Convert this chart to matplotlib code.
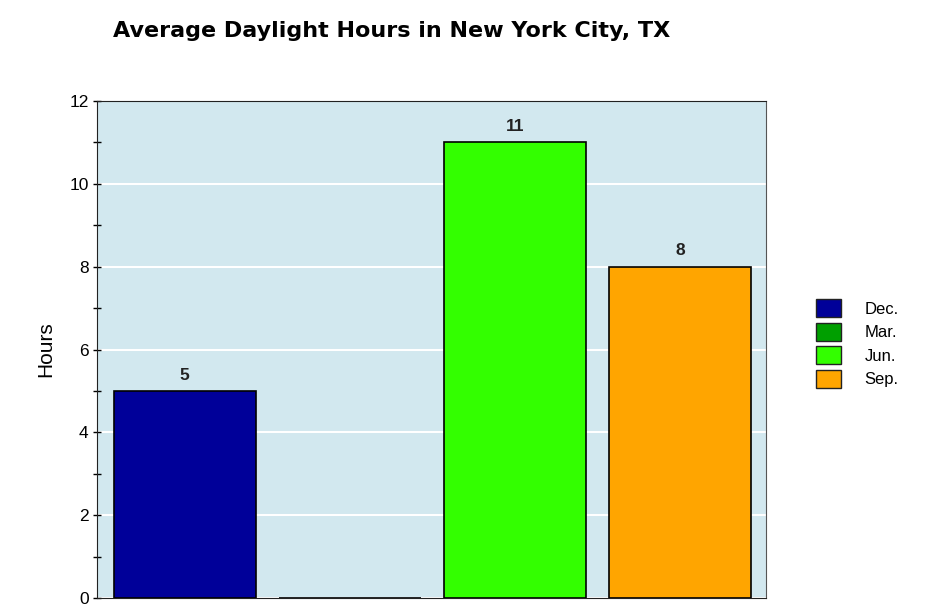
import matplotlib
matplotlib.use("Agg")
import matplotlib.pyplot as plt
from matplotlib.patches import Patch
from matplotlib.ticker import MultipleLocator
from matplotlib import font_manager

# datos del grafico
meses = ["Dec.", "Mar.", "Jun.", "Sep."]
horas = [5, 0, 11, 8]
colores = ["#000099", "#009F00", "#33FF00", "#FFA500"]
titulo = "Average Daylight Hours in New York City, TX"

plt.rcParams['font.family'] = ['Liberation Sans', 'DejaVu Sans']

fig = plt.figure(figsize=(9.49, 6.07), dpi=100)
ax = fig.add_axes([0.1022, 0.0148, 0.705, 0.8188])
ax.set_facecolor("#D2E8EF")

x = list(range(len(meses)))
barras = ax.bar(x, horas, width=0.86, color=colores, edgecolor="black",
                linewidth=1.2, zorder=3)

# etiquetas solo para barras con valor
etiquetas = [str(h) if h > 0 else "" for h in horas]
ax.bar_label(barras, labels=etiquetas, padding=6, fontsize=12.5,
             fontweight="bold", color="#222222")

ax.set_xlim(-0.53, 3.52)
ax.set_ylim(0, 12)
ax.yaxis.set_major_locator(MultipleLocator(2))
ax.yaxis.set_minor_locator(MultipleLocator(1))
ax.set_xticks([])
ax.grid(axis="y", color="white", linewidth=1.5, zorder=1)
ax.set_axisbelow(True)

ax.tick_params(axis="y", which="both", direction="inout", length=6,
               width=1, labelsize=12.5, pad=3)
for lado in ["left", "top", "bottom"]:
    ax.spines[lado].set_color("#222222")
ax.spines["right"].set_color("#555555")

ax.set_ylabel("Hours", fontsize=15, labelpad=10)

# titulo con fuente estrecha en negrita (si existe la variante condensada)
nombres = {f.name for f in font_manager.fontManager.ttflist}
if "DejaVu Sans Condensed" in nombres:
    fam, tam = "DejaVu Sans Condensed", 19
else:
    fam, tam = "DejaVu Sans", 16
fig.text(0.4125, 0.949, titulo, ha="center", va="center", fontsize=tam,
         fontweight="bold", family=[fam, "DejaVu Sans"])

# leyenda a la derecha
parches = [Patch(facecolor=c, edgecolor="#222222", label=m)
           for c, m in zip(colores, meses)]
fig.legend(handles=parches, loc="upper left", bbox_to_anchor=(0.853, 0.518),
           frameon=False, fontsize=12, handlelength=1.5, handleheight=1.3,
           labelspacing=0.32, handletextpad=1.4, borderaxespad=0)

fig.savefig("out.png", dpi=100)
